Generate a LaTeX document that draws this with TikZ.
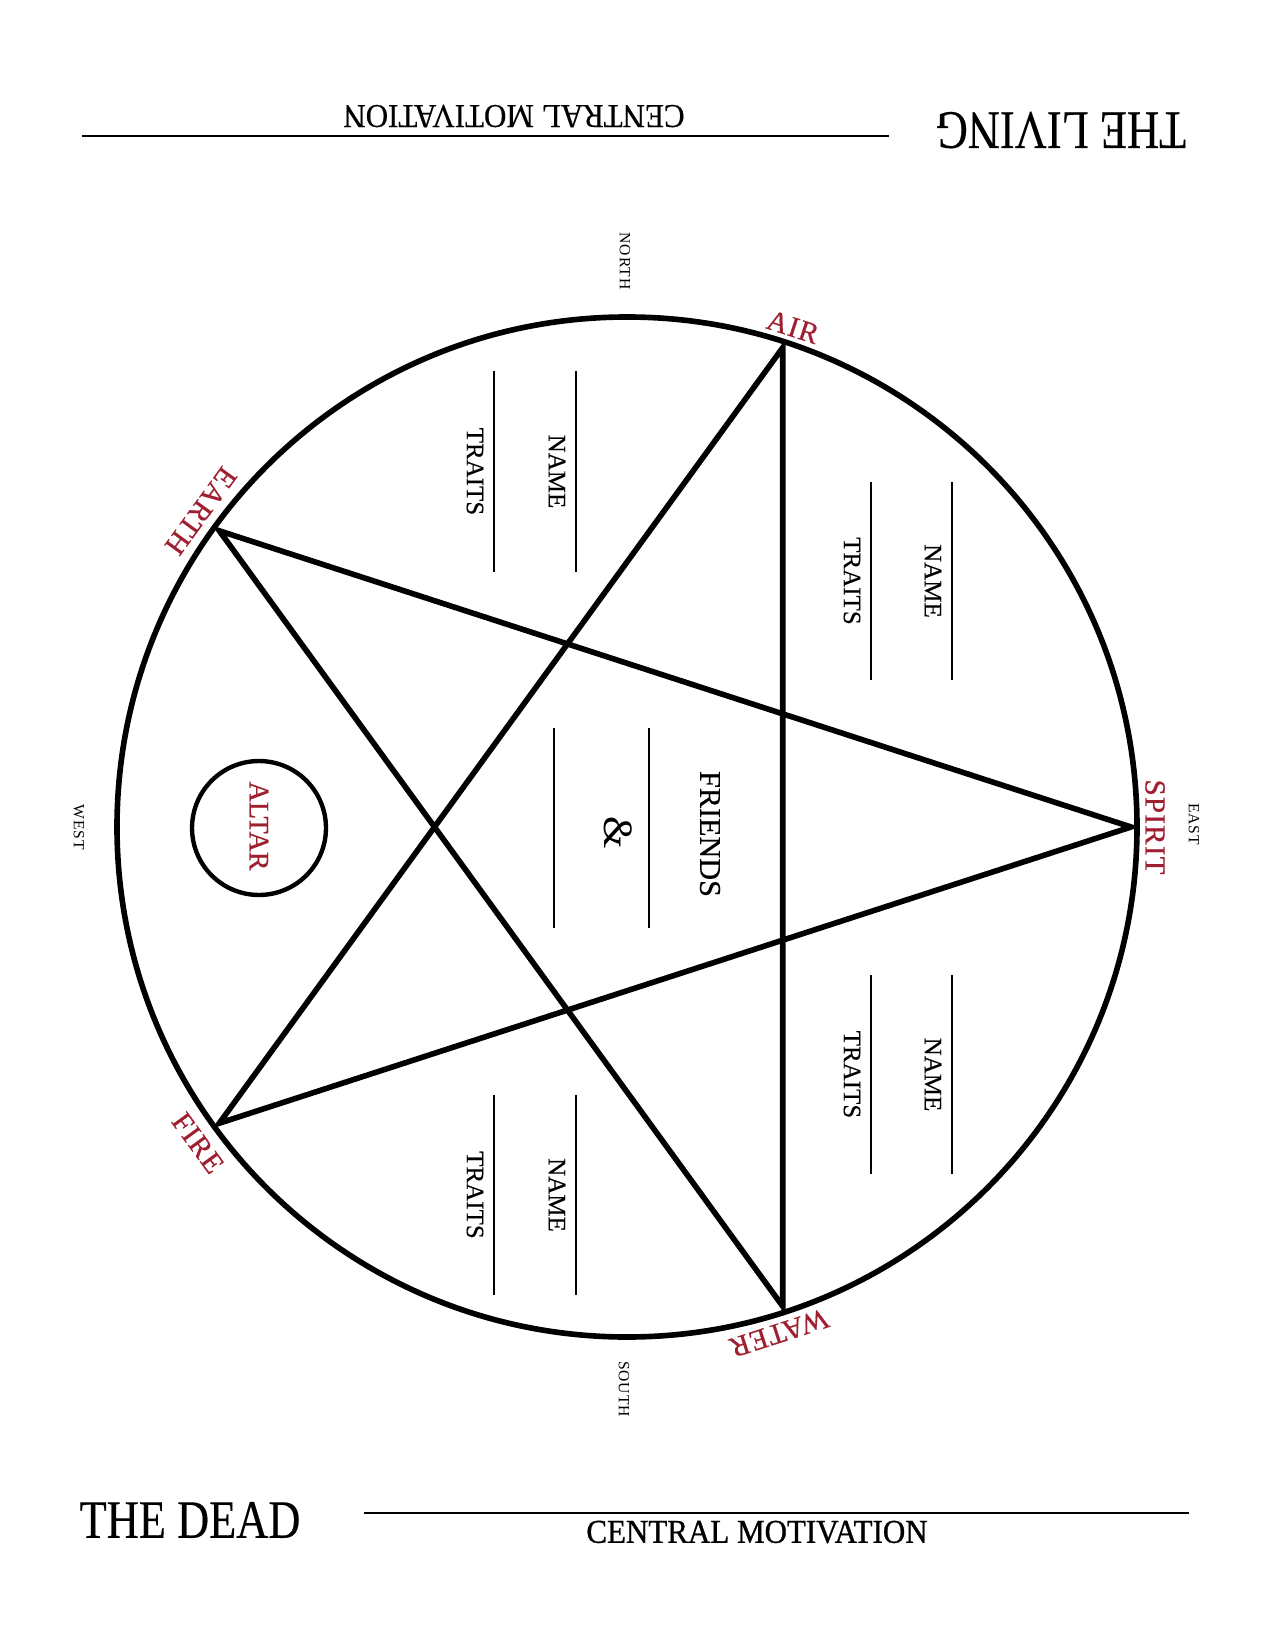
\documentclass[tikz,border=0pt]{standalone}
\usepackage{fontspec}
\setmainfont{Liberation Serif}
\definecolor{blood}{RGB}{158,32,48}
\begin{document}
\begin{tikzpicture}[x=0.48pt,y=-0.48pt,
  every node/.style={inner sep=0pt, outer sep=0pt},
  heavy/.style={line width=2.7pt, line join=miter},
  rulebar/.style={line width=1pt},
  writeline/.style={line width=0.9pt},
  element/.style={text=blood, font=\fontsize{14}{14}\selectfont\addfontfeature{FakeBold=0.6,LetterSpace=4}},
  compass/.style={font=\fontsize{7.5}{7.5}\selectfont\addfontfeature{LetterSpace=6}, rotate=-90},
  lbl/.style={font=\fontsize{12}{12}\selectfont\addfontfeature{FakeBold=0.3}, rotate=-90},
  title/.style={font=\fontsize{26}{26}\selectfont\addfontfeature{FakeBold=0.3}, xscale=0.82},
  motive/.style={font=\fontsize{16}{16}\selectfont, xscale=0.93},
]
\useasboundingbox (0,0) rectangle (1275,1650);
\fill[white] (0,0) rectangle (1275,1650);

% header (upside down)
\node[title, rotate=180] (living) at (1061,130) {THE LIVING};
\coordinate (toplineA) at (82,136);
\coordinate (toplineB) at (889,136);
\draw[rulebar] (toplineA) -- (toplineB);
\node[motive, rotate=180, font=\fontsize{16}{16}\selectfont\addfontfeature{FakeBold=0.3}] (topmotive) at (514,116) {CENTRAL MOTIVATION};

% footer
\node[title] (dead) at (190,1520) {THE DEAD};
\coordinate (botlineA) at (364,1513);
\coordinate (botlineB) at (1189,1513);
\draw[rulebar] (botlineA) -- (botlineB);
\node[motive, font=\fontsize{16}{16}\selectfont\addfontfeature{FakeBold=0.9}] (botmotive) at (757,1532) {CENTRAL MOTIVATION};

% circle and pentagram
\coordinate (O) at (627,827);
\draw[heavy] (O) circle [radius=510];
\coordinate (spirit) at (1131,827);
\coordinate (air) at (782.7,347.7);
\coordinate (earth) at (219.3,530.8);
\coordinate (fire) at (219.3,1123.2);
\coordinate (water) at (782.7,1306.3);
\draw[heavy] (spirit) -- (earth) -- (water) -- (air) -- (fire) -- cycle;

% element labels
\node[element, rotate=-18] (airlbl) at (793,327) {AIR};
\node[element, rotate=234] (earthlbl) at (201,511) {EARTH};
\node[element, rotate=-54] (firelbl) at (198,1143) {FIRE};
\node[element, rotate=198] (waterlbl) at (779,1333) {WATER};
\node[element, rotate=-90] (spiritlbl) at (1155,827) {SPIRIT};

% compass
\node[compass] (north) at (625,261) {NORTH};
\node[compass] (south) at (624,1389) {SOUTH};
\node[compass] (west) at (79,827) {WEST};
\node[compass] (east) at (1194,824) {EAST};

% name / traits slots
\foreach \id/\xa/\xb/\ya/\yb in {tl/576/494/371/572, tr/952/871/482/680, br/952/871/975/1174, bl/576/494/1095/1295}{
  \coordinate (\id nameA) at (\xa,\ya);
  \coordinate (\id nameB) at (\xa,\yb);
  \coordinate (\id traitA) at (\xb,\ya);
  \coordinate (\id traitB) at (\xb,\yb);
  \draw[writeline] (\id nameA) -- (\id nameB);
  \draw[writeline] (\id traitA) -- (\id traitB);
  \node[lbl] (\id name) at ({\xa-19},{(\ya+\yb)/2}) {NAME};
  \node[lbl] (\id trait) at ({\xb-19},{(\ya+\yb)/2}) {TRAITS};
}

% center: friends
\coordinate (cA1) at (649,728);
\coordinate (cA2) at (649,928);
\coordinate (cB1) at (554,728);
\coordinate (cB2) at (554,928);
\draw[writeline] (cA1) -- (cA2);
\draw[writeline] (cB1) -- (cB2);
\node[font=\fontsize{14.5}{14.5}\selectfont\addfontfeature{FakeBold=0.4}, rotate=-90] (friends) at (710,834) {FRIENDS};
\node[font=\fontsize{20}{20}\selectfont, rotate=-90] (amp) at (618,833) {\&};

% altar
\node[draw, circle, line width=2.1pt, minimum size=64.3pt] (altar) at (259,828) {};
\node[text=blood, font=\fontsize{13.5}{13.5}\selectfont\addfontfeature{FakeBold=0.6}, rotate=-90] (altarlbl) at (259,826) {ALTAR};
\end{tikzpicture}
\end{document}
